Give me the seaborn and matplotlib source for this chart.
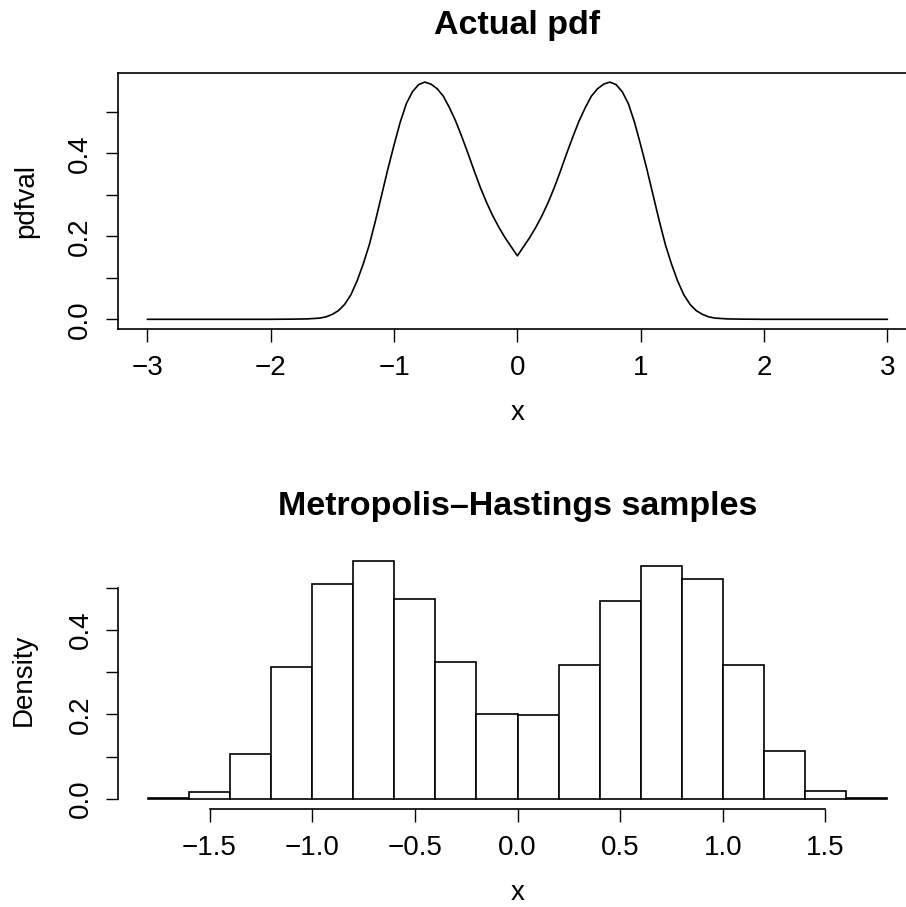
import matplotlib
matplotlib.use("Agg")
import matplotlib.pyplot as plt
import seaborn as sns
import pandas as pd

# Values
x_grid = [-3.0, -2.5, -2.0, -1.8, -1.7, -1.65,
          -1.6, -1.55, -1.5, -1.45, -1.4, -1.35, -1.3, -1.25, -1.2, -1.15,
          -1.1, -1.05, -1.0, -0.95, -0.9, -0.85, -0.8, -0.75, -0.7, -0.65,
          -0.6, -0.55, -0.5, -0.45, -0.4, -0.35, -0.3, -0.25, -0.2, -0.15,
          -0.1, -0.05, 0.0,
          0.05, 0.1, 0.15, 0.2, 0.25, 0.3, 0.35, 0.4, 0.45, 0.5, 0.55,
          0.6, 0.65, 0.7, 0.75, 0.8, 0.85, 0.9, 0.95, 1.0, 1.05, 1.1,
          1.15, 1.2, 1.25, 1.3, 1.35, 1.4, 1.45, 1.5, 1.55, 1.6,
          1.65, 1.7, 1.8, 2.0, 2.5, 3.0]
pdfval = [0.0, 0.0, 0.0, 0.0005, 0.001, 0.002,
          0.003, 0.006, 0.012, 0.021, 0.036, 0.059, 0.092, 0.133, 0.180, 0.238,
          0.300, 0.362, 0.420, 0.475, 0.520, 0.549, 0.566, 0.572, 0.567, 0.556,
          0.538, 0.510, 0.478, 0.440, 0.400, 0.358, 0.318, 0.282, 0.250, 0.222,
          0.197, 0.175, 0.153,
          0.175, 0.197, 0.222, 0.250, 0.282, 0.318, 0.358, 0.400, 0.440, 0.478, 0.510,
          0.538, 0.556, 0.567, 0.572, 0.566, 0.549, 0.520, 0.475, 0.420, 0.362, 0.300,
          0.238, 0.180, 0.133, 0.092, 0.059, 0.036, 0.021, 0.012, 0.006, 0.003,
          0.002, 0.001, 0.0005, 0.0, 0.0, 0.0]

bin_edges = [-1.8, -1.6, -1.4, -1.2, -1.0, -0.8, -0.6, -0.4, -0.2, 0.0,
             0.2, 0.4, 0.6, 0.8, 1.0, 1.2, 1.4, 1.6, 1.8]
bin_mids = [-1.7, -1.5, -1.3, -1.1, -0.9, -0.7, -0.5, -0.3, -0.1,
            0.1, 0.3, 0.5, 0.7, 0.9, 1.1, 1.3, 1.5, 1.7]
density = [0.002, 0.016, 0.106, 0.311, 0.509, 0.562, 0.473, 0.323, 0.202,
           0.198, 0.317, 0.469, 0.550, 0.520, 0.317, 0.113, 0.018, 0.002]

top_xticks = [-3, -2, -1, 0, 1, 2, 3]
bottom_xticks = [-1.5, -1.0, -0.5, 0.0, 0.5, 1.0, 1.5]
yticks = [0.0, 0.1, 0.2, 0.3, 0.4, 0.5]
ytick_labels = ["0.0", "", "0.2", "", "0.4", ""]

sns.set_theme(style="white")
plt.rcParams["font.family"] = ["Liberation Sans", "DejaVu Sans"]
plt.rcParams["axes.unicode_minus"] = True
plt.rcParams["text.color"] = "black"
plt.rcParams["axes.labelcolor"] = "black"
plt.rcParams["xtick.color"] = "black"
plt.rcParams["ytick.color"] = "black"

fig = plt.figure(figsize=(9.06, 9.07), dpi=100)
W, H = 906, 907


def axes_px(x0, x1, y0, y1):
    return fig.add_axes([x0 / W, 1 - y1 / H, (x1 - x0) / W, (y1 - y0) / H])


def r_style(ax):
    ax.tick_params(axis="both", direction="out", length=9, width=1.0,
                   color="black", labelsize=20, labelcolor="black")
    ax.tick_params(axis="x", pad=10, bottom=True)
    ax.tick_params(axis="y", pad=8.7, left=True, labelrotation=90)
    for lbl in ax.get_yticklabels():
        lbl.set_va("center")
    ax.grid(False)


# ---- top panel: actual pdf
ax1 = axes_px(117.7, 917.0, 72.6, 328.8)
pdf_df = pd.DataFrame({"x": x_grid, "pdfval": pdfval})
sns.lineplot(data=pdf_df, x="x", y="pdfval", color="black", linewidth=1.2, ax=ax1)
ax1.set_xlim(-3.24, 3.24)
ax1.set_ylim(-0.02288, 0.59488)
ax1.set_xticks(top_xticks)
ax1.set_xticklabels([f"{v:g}".replace("-", "\u2212") for v in top_xticks])
ax1.set_yticks(yticks)
ax1.set_yticklabels(ytick_labels)
for side in ["left", "right", "top", "bottom"]:
    ax1.spines[side].set_visible(True)
    ax1.spines[side].set_color("black")
    ax1.spines[side].set_linewidth(1.2)
r_style(ax1)
ax1.set_xlabel("x", fontsize=20, color="black")
ax1.set_ylabel("pdfval", fontsize=20, color="black")
ax1.xaxis.set_label_coords(0.5, -0.278)
ax1.yaxis.set_label_coords(-0.0985, 0.5)
ax1.set_title("Actual pdf", fontsize=24.5, fontweight="bold", color="black",
              y=1.152, pad=0)

# ---- bottom panel: histogram of MH samples
ax2 = axes_px(118.4, 916.6, 551.8, 808.5)
hist_df = pd.DataFrame({"x": bin_mids, "density": density})
sns.histplot(data=hist_df, x="x", weights="density", bins=bin_edges,
             stat="count", color="white", edgecolor="black", linewidth=1.2,
             alpha=1, ax=ax2)
ax2.set_xlim(-1.944, 1.944)
ax2.set_ylim(-0.02248, 0.58448)
ax2.set_xticks(bottom_xticks)
ax2.set_xticklabels([f"{v:.1f}".replace("-", "\u2212") for v in bottom_xticks])
ax2.set_yticks(yticks)
ax2.set_yticklabels(ytick_labels)
ax2.spines["top"].set_visible(False)
ax2.spines["right"].set_visible(False)
for side in ["left", "bottom"]:
    ax2.spines[side].set_visible(True)
    ax2.spines[side].set_color("black")
    ax2.spines[side].set_linewidth(1.2)
ax2.spines["left"].set_bounds(0.0, 0.5)
ax2.spines["bottom"].set_bounds(-1.5, 1.5)
r_style(ax2)
ax2.set_xlabel("x", fontsize=20, color="black")
ax2.set_ylabel("Density", fontsize=20, color="black")
ax2.xaxis.set_label_coords(0.5, -0.2797)
ax2.yaxis.set_label_coords(-0.102, 0.5)
ax2.set_title("Metropolis\u2013Hastings samples", fontsize=24.5, fontweight="bold",
              color="black", y=1.1435, pad=0)

fig.savefig("out.png", dpi=100)
